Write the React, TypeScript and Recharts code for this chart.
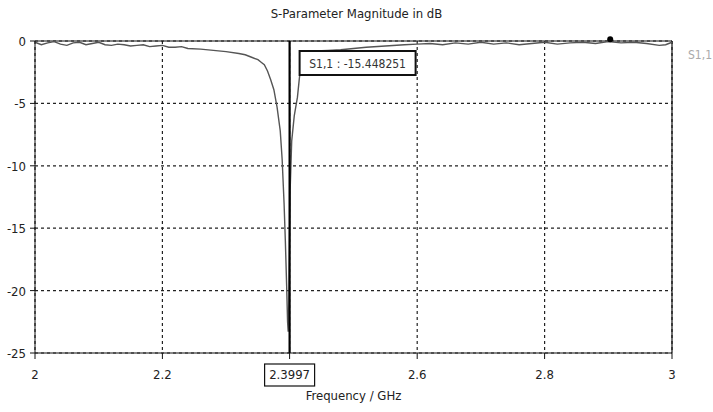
import React from "react";
import {
  CartesianGrid,
  Line,
  LineChart,
  ReferenceDot,
  ReferenceLine,
  XAxis,
  YAxis,
} from "recharts";

const frequency = [
  2.0, 2.01, 2.02, 2.03, 2.04, 2.05, 2.06, 2.07, 2.08, 2.09, 2.1, 2.11, 2.12, 2.13, 2.14,
  2.15, 2.16, 2.17, 2.18, 2.19, 2.2, 2.21, 2.22, 2.23, 2.24, 2.26, 2.28, 2.3, 2.32, 2.33,
  2.34, 2.35, 2.355, 2.36, 2.365, 2.37, 2.375, 2.38, 2.385, 2.388, 2.391, 2.393, 2.395,
  2.3965, 2.3975, 2.3985, 2.3997, 2.4005, 2.403, 2.407, 2.412, 2.415, 2.418, 2.422, 2.43,
  2.44, 2.46, 2.48, 2.5, 2.52, 2.55, 2.58, 2.6, 2.62, 2.64, 2.66, 2.68, 2.7, 2.72, 2.74,
  2.76, 2.78, 2.8, 2.82, 2.84, 2.86, 2.88, 2.9, 2.92, 2.94, 2.96, 2.98, 2.99, 3.0,
];

const s11 = [
  -0.1, -0.3, -0.15, -0.05, -0.25, -0.35, -0.15, -0.1, -0.3, -0.2, -0.1, -0.3, -0.35, -0.25,
  -0.3, -0.4, -0.35, -0.3, -0.45, -0.4, -0.35, -0.5, -0.5, -0.45, -0.6, -0.65, -0.75, -0.85,
  -1.0, -1.1, -1.3, -1.5, -1.7, -1.9, -2.4, -3.1, -3.9, -5.3, -7.2, -9.5, -13, -16, -19.5,
  -22.5, -23.3, -21, -15.45, -12, -8, -6, -4.5, -3, -1.8, -1.1, -0.9, -0.8, -0.75, -0.7,
  -0.6, -0.5, -0.4, -0.3, -0.25, -0.2, -0.3, -0.15, -0.25, -0.1, -0.25, -0.15, -0.3, -0.2,
  -0.1, -0.25, -0.15, -0.1, -0.2, -0.05, -0.15, -0.1, -0.2, -0.35, -0.3, -0.1,
];

const xTicks = [2, 2.2, 2.3997, 2.6, 2.8, 3];
const yTicks = [0, -5, -10, -15, -20, -25];
const markerFreq = 2.3997;
const markerLabel = "S1,1 : -15.448251";
const seriesName = "S1,1";

const data = frequency.map((f, i) => ({ f, s11: s11[i] }));

const font = "'DejaVu Sans', sans-serif";
const narrow = { fontStretch: "condensed" as const };

const XTick = (props: any) => {
  const { x, y, payload } = props;
  const v = payload.value;
  const label = v === markerFreq ? "2.3997" : String(v);
  return (
    <g>
      {v === markerFreq && (
        <rect x={x - 25} y={y + 3} width={50} height={22} fill="#fff" stroke="#111" strokeWidth={1.2} />
      )}
      <text x={x} y={y + 18} textAnchor="middle" fontSize={13} fill="#222" fontFamily={font} style={narrow}>
        {label}
      </text>
    </g>
  );
};

const YTick = (props: any) => {
  const { x, y, payload } = props;
  return (
    <text x={x - 2} y={y + 5} textAnchor="end" fontSize={13} fill="#222" fontFamily={font} style={narrow}>
      {payload.value}
    </text>
  );
};

const MarkerLabel = (props: any) => {
  const { viewBox } = props;
  const x = viewBox.x + 10;
  const y = viewBox.y + 10;
  return (
    <g>
      <rect x={x} y={y} width={116} height={24} fill="#fff" stroke="#111" strokeWidth={2} />
      <text x={x + 58} y={y + 17} textAnchor="middle" fontSize={12} fill="#333" fontFamily={font} style={narrow}>
        {markerLabel}
      </text>
    </g>
  );
};

export default function App() {
  return (
    <div style={{ position: "absolute", left: 0, top: 0, width: 713, height: 412, background: "#fff" }}>
      <div
        style={{
          position: "absolute",
          top: 6,
          left: 0,
          width: 713,
          textAlign: "center",
          fontFamily: font,
          fontStretch: "condensed",
          fontSize: 13,
          color: "#222",
        }}
      >
        S-Parameter Magnitude in dB
      </div>
      <div
        style={{
          position: "absolute",
          top: 48,
          left: 688,
          fontFamily: font,
          fontStretch: "condensed",
          fontSize: 12,
          color: "#aaa",
        }}
      >
        {seriesName}
      </div>
      <LineChart width={713} height={412} data={data} margin={{ top: 41, right: 41, bottom: 41, left: 0 }}>
        <CartesianGrid stroke="#222" strokeDasharray="3 3" strokeWidth={1.2} />
        <XAxis
          type="number"
          dataKey="f"
          domain={[2, 3]}
          ticks={xTicks}
          tick={<XTick />}
          stroke="#111"
          tickSize={6}
          height={18}
          label={{
            value: "Frequency / GHz",
            position: "insideBottom",
            offset: -29,
            fontSize: 13,
            fill: "#222",
            fontFamily: font,
            style: narrow,
          }}
        />
        <YAxis
          type="number"
          domain={[-25, 0]}
          ticks={yTicks}
          width={35}
          stroke="#111"
          tickSize={5}
          tick={<YTick />}
          allowDataOverflow
        />
        <ReferenceLine y={0} stroke="#111" strokeWidth={1.2} />
        <ReferenceLine x={3} stroke="#111" strokeWidth={1.2} />
        <Line
          type="linear"
          dataKey="s11"
          stroke="#555"
          strokeWidth={1.4}
          dot={false}
          isAnimationActive={false}
        />
        <ReferenceLine x={markerFreq} stroke="#000" strokeWidth={2.2} label={<MarkerLabel />} />
        <ReferenceDot x={2.903} y={0.15} r={3} fill="#000" stroke="none" ifOverflow="visible" />
      </LineChart>
    </div>
  );
}
